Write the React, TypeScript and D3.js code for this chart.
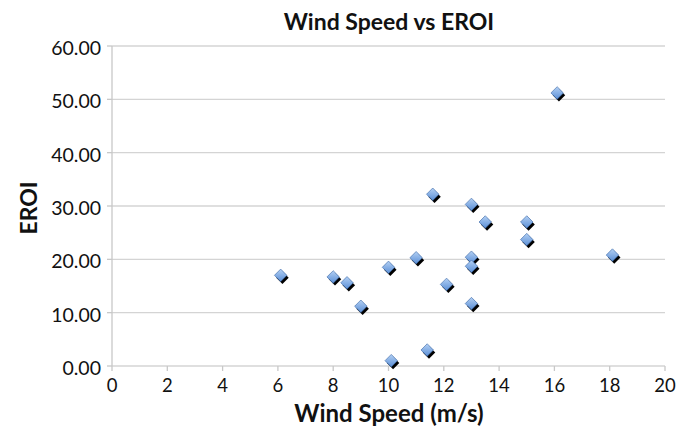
import React from 'react';
import * as d3 from 'd3';

// Wind speed (m/s) and EROI
const windSpeed = [16.1, 11.6, 13.0, 13.5, 15.0, 15.0, 11.0, 13.0, 13.0, 18.1, 12.1, 13.0, 11.4, 6.1, 8.0, 8.5, 9.0, 10.0, 10.1];
const eroi = [51.2, 32.2, 30.3, 27.0, 27.0, 23.7, 20.3, 20.4, 18.7, 20.8, 15.3, 11.7, 3.0, 17.0, 16.7, 15.6, 11.2, 18.5, 1.0];
const xTicks = [0, 2, 4, 6, 8, 10, 12, 14, 16, 18, 20];
const yTicks = [0, 10, 20, 30, 40, 50, 60];

const W = 696;
const H = 429;
const margin = { top: 46, right: 31, bottom: 63, left: 112 };
const FONT = 'Lato, "Open Sans", sans-serif';

const App: React.FC = () => {
  const x = d3.scaleLinear().domain([0, 20]).range([margin.left, W - margin.right]);
  const y = d3.scaleLinear().domain([0, 60]).range([H - margin.bottom, margin.top]);
  // rotated square, like Excel's diamond marker
  const diamond = d3.symbol(d3.symbolSquare, 78)();
  const points = windSpeed.map((v, i) => ({ wx: v, e: eroi[i] }));

  return (
    <svg width={W} height={H} style={{ position: 'absolute', left: 0, top: 0, background: '#fff' }}>
      <defs>
        <linearGradient id="mk" x1="0" y1="0" x2="1" y2="1">
          <stop offset="0%" stopColor="#b3d0f4" />
          <stop offset="100%" stopColor="#5b8fd6" />
        </linearGradient>
      </defs>
      <text x={389} y={30} textAnchor="middle" fontFamily={FONT} fontWeight="bold" fontSize={23} fill="#111">
        Wind Speed vs EROI
      </text>

      {/* gridlines */}
      {yTicks.map(t => (
        <line key={'g' + t} x1={x(0)} x2={x(20)} y1={y(t)} y2={y(t)} stroke="#d4d4d4" strokeWidth={1.3} />
      ))}
      {/* y axis */}
      <line x1={x(0)} x2={x(0)} y1={y(0)} y2={y(60)} stroke="#c8c8c8" strokeWidth={1.3} />
      {yTicks.map(t => (
        <g key={'y' + t}>
          <line x1={x(0) - 5} x2={x(0)} y1={y(t)} y2={y(t)} stroke="#c8c8c8" strokeWidth={1.3} />
          <text x={x(0) - 11} y={y(t) + 9} textAnchor="end" fontFamily={FONT} fontSize={19.5} fill="#111">
            {d3.format('.2f')(t)}
          </text>
        </g>
      ))}
      {/* x axis ticks */}
      {xTicks.map(t => (
        <g key={'x' + t}>
          <line x1={x(t)} x2={x(t)} y1={y(0)} y2={y(0) + 5} stroke="#c8c8c8" strokeWidth={1.3} />
          <text x={x(t)} y={y(0) + 26} textAnchor="middle" fontFamily={FONT} fontSize={18.5} fill="#111">
            {t}
          </text>
        </g>
      ))}

      {/* markers */}
      {points.map((p, i) => (
        <g key={'p' + i} transform={`translate(${x(p.wx)},${y(p.e)})`}>
          <path d={diamond} transform="translate(1.8,2.4) rotate(45)" fill="#000" />
          <path d={diamond} transform="rotate(45)" fill="url(#mk)" stroke="#3d6aa8" strokeWidth={0.6} />
        </g>
      ))}

      <text x={389} y={422} textAnchor="middle" fontFamily={FONT} fontWeight="bold" fontSize={24} fill="#111">
        Wind Speed (m/s)
      </text>
      <text
        transform={`translate(37,${(y(0) + y(60)) / 2 + 2}) rotate(-90)`}
        textAnchor="middle"
        fontFamily={FONT}
        fontWeight="bold"
        fontSize={23}
        fill="#111"
      >
        EROI
      </text>
    </svg>
  );
};

export default App;
